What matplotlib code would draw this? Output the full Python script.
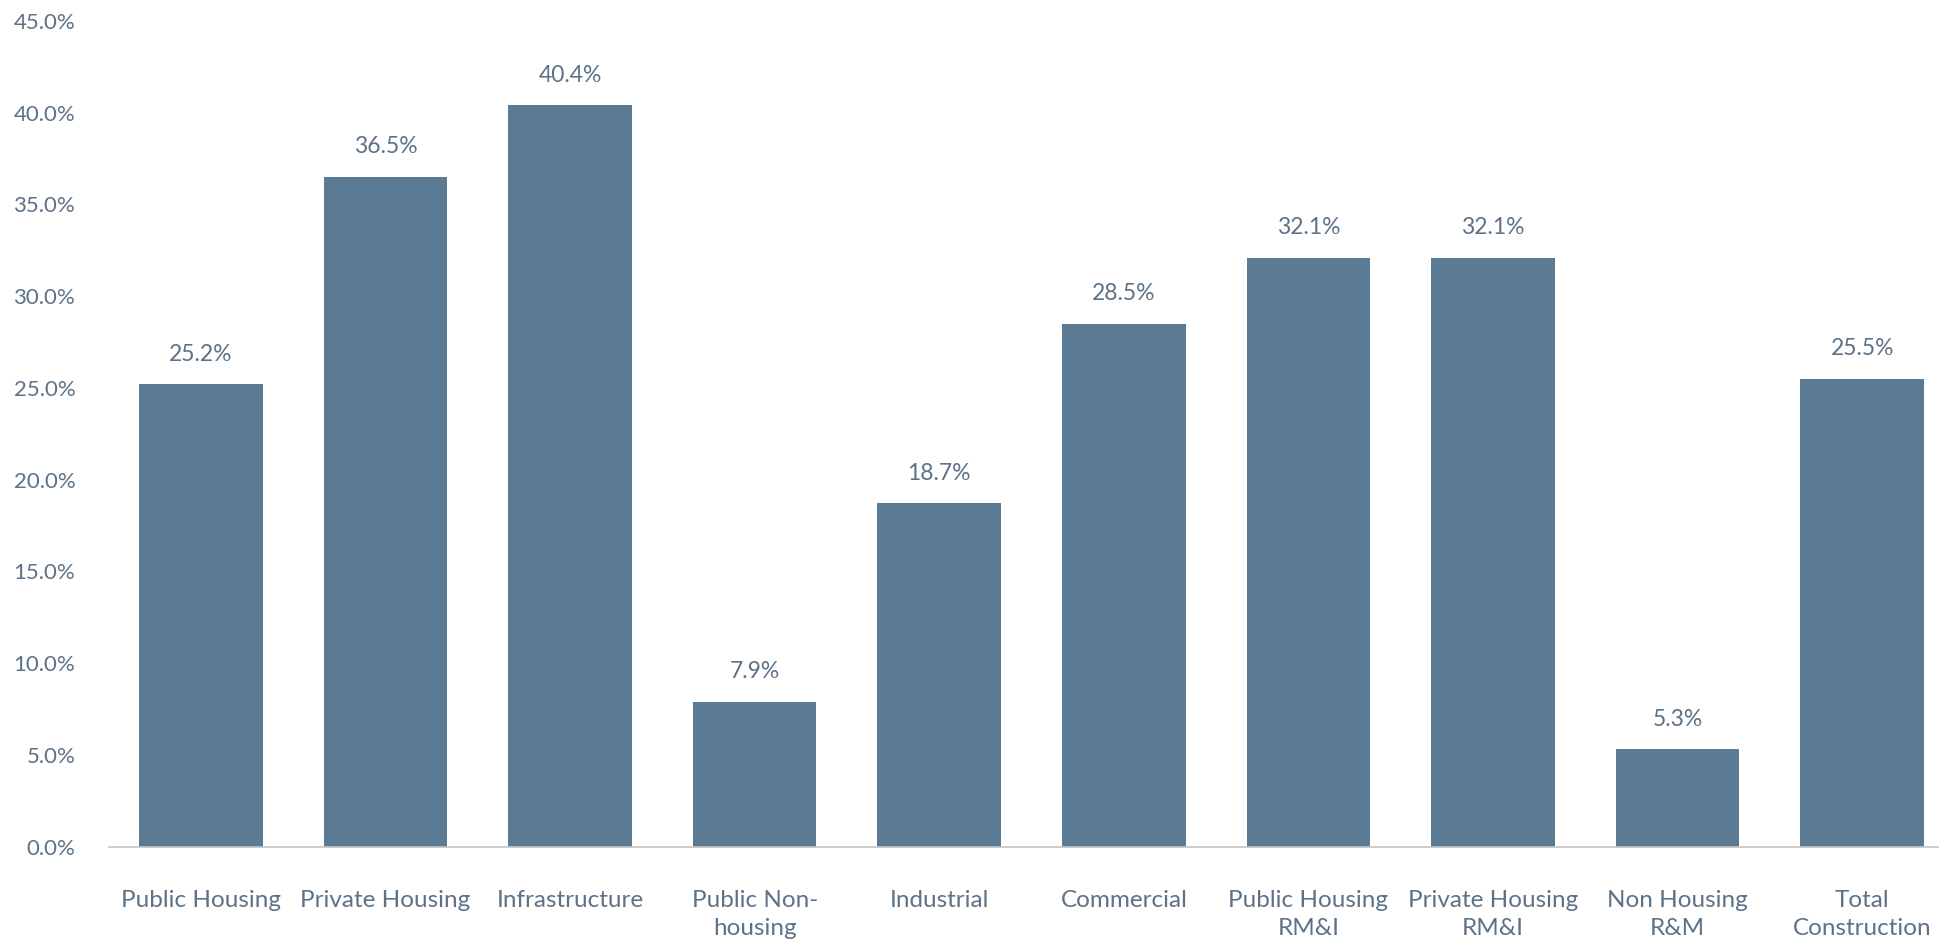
import matplotlib.pyplot as plt
from matplotlib.ticker import FuncFormatter

categories = ["Public Housing", "Private Housing", "Infrastructure", "Public Non-\nhousing",
              "Industrial", "Commercial", "Public Housing\nRM&I", "Private Housing\nRM&I",
              "Non Housing\nR&M", "Total\nConstruction"]
values = [25.2, 36.5, 40.4, 7.9, 18.7, 28.5, 32.1, 32.1, 5.3, 25.5]
yticks = [0, 5, 10, 15, 20, 25, 30, 35, 40, 45]

bar_color = "#5a7b93"
text_color = "#5d7287"

plt.rcParams['font.family'] = ['Lato', 'DejaVu Sans']

fig = plt.figure(figsize=(19.39, 9.46), dpi=100)
ax = fig.add_axes([0.056, 0.105, 0.952, 0.873])

x = range(len(categories))
ax.bar(x, values, width=0.67, color=bar_color, zorder=2)

for xi, v in zip(x, values):
    ax.annotate(f"{v:.1f}%", (xi, v), xytext=(0, 14), textcoords="offset points",
                ha="center", va="bottom", fontsize=16.5, color=text_color)

ax.set_xlim(-0.5, len(categories) - 0.5)
ax.set_ylim(0, 45)
ax.set_yticks(yticks)
ax.yaxis.set_major_formatter(FuncFormatter(lambda v, p: f"{v:.1f}%"))
ax.set_xticks(list(x))
ax.set_xticklabels(categories, linespacing=1.45)

ax.tick_params(axis="both", length=0, labelsize=16, labelcolor=text_color)
ax.tick_params(axis="x", pad=31, labelsize=17.5)
ax.tick_params(axis="y", pad=24)

for side in ["top", "right", "left"]:
    ax.spines[side].set_visible(False)
ax.spines["bottom"].set_color("#c4c4c4")
ax.spines["bottom"].set_linestyle((0, (2, 1)))
ax.spines["bottom"].set_linewidth(1.2)

fig.savefig("out.png", dpi=100)
